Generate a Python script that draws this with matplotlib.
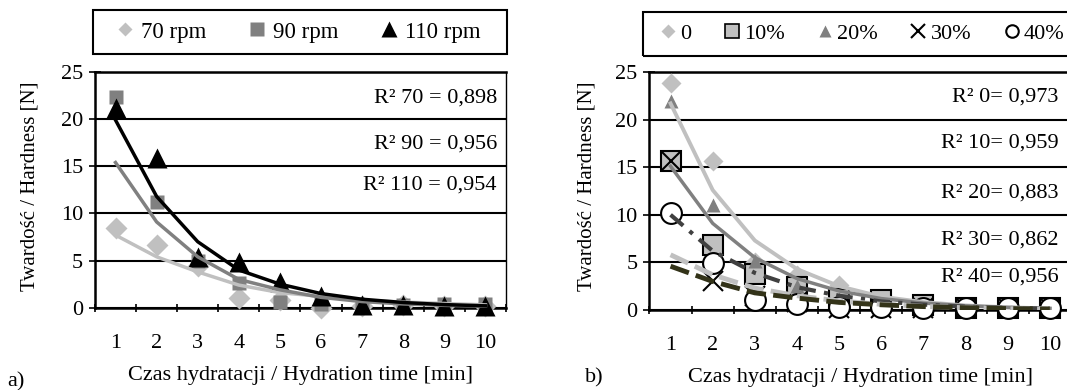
import numpy as np
import matplotlib
matplotlib.use("Agg")
import matplotlib.pyplot as plt
from matplotlib.lines import Line2D
from matplotlib.patches import Rectangle

plt.rcParams["font.family"] = ["Liberation Serif", "DejaVu Serif"]
plt.rcParams["font.size"] = 16

time_min = [1, 2, 3, 4, 5, 6, 7, 8, 9, 10]

# panel a) - rotational speed
rpm70 = [8.5, 6.6, 4.4, 1.0, 0.8, 0.0, 0.2, 0.3, 0.2, 0.2]
rpm90 = [22.3, 11.2, 5.0, 2.6, 0.6, 0.4, 0.3, 0.3, 0.4, 0.4]
rpm110 = [21.2, 15.9, 5.4, 4.9, 2.7, 1.2, 0.3, 0.3, 0.2, 0.2]
trend70 = [7.7, 5.4, 3.8, 2.4, 1.6, 1.2, 0.8, 0.6, 0.45, 0.3]
trend90 = [15.4, 9.1, 5.4, 3.0, 1.9, 1.1, 0.65, 0.4, 0.25, 0.15]
trend110 = [19.9, 11.8, 7.0, 4.0, 2.5, 1.5, 0.9, 0.55, 0.33, 0.2]
r2_a = ["R² 70 = 0,898", "R² 90 = 0,956", "R² 110 = 0,954"]
r2_a_y = [22.2, 17.4, 13.0]

# panel b) - additive share
add0 = [23.8, 15.7, 5.0, 3.7, 2.6, 1.0, 0.3, 0.2, 0.2, 0.2]
add10 = [15.7, 6.8, 3.8, 2.4, 1.2, 1.1, 0.5, 0.2, 0.2, 0.2]
add20 = [22.0, 11.0, 5.2, 2.5, 1.2, 0.7, 0.3, 0.2, 0.2, 0.2]
add30 = [15.7, 3.0, 1.5, 0.8, 0.2, 0.2, 0.2, 0.2, 0.2, 0.2]
add40 = [10.2, 4.9, 1.05, 0.65, 0.35, 0.3, 0.2, 0.2, 0.2, 0.2]
trend0 = [21.7, 12.6, 7.3, 4.3, 2.5, 1.4, 0.83, 0.48, 0.28, 0.16]
trend10 = [15.1, 9.1, 5.5, 3.3, 2.0, 1.2, 0.73, 0.44, 0.27, 0.16]
trend20 = [5.8, 3.7, 2.3, 1.5, 0.95, 0.6, 0.38, 0.24, 0.15, 0.1]
trend30 = [10.0, 6.2, 3.9, 2.4, 1.5, 0.9, 0.57, 0.35, 0.22, 0.14]
trend40 = [4.6, 3.0, 1.8, 1.25, 0.8, 0.55, 0.36, 0.24, 0.15, 0.1]
r2_b = ["R² 0= 0,973", "R² 10= 0,959", "R² 20= 0,883", "R² 30= 0,862", "R² 40= 0,956"]
r2_b_y = [22.4, 17.5, 12.3, 7.3, 3.5]

LIGHT = "#c0c0c0"
MID = "#808080"
W, H = 1067, 390

fig = plt.figure(figsize=(10.67, 3.9), dpi=100)
ax1 = fig.add_axes([0.089, 0.211, 0.3852, 0.6044])
ax2 = fig.add_axes([0.6087, 0.2051, 0.395, 0.6103])


def style_axis(ax):
    ax.set_xlim(0.5, 10.5)
    ax.set_ylim(0, 25)
    ax.set_yticks([0, 5, 10, 15, 20, 25])
    ax.set_xticks(time_min)
    ax.set_xticks(np.arange(0.5, 11, 1), minor=True)
    ax.tick_params(axis="x", which="major", length=0, pad=19)
    ax.tick_params(axis="x", which="minor", length=6, width=1.2, direction="inout")
    ax.tick_params(axis="y", length=9, width=1.2, direction="inout", pad=4)
    ax.grid(axis="y", color="black", linewidth=1.5)
    ax.set_axisbelow(True)
    for side in ["left", "bottom", "top"]:
        ax.spines[side].set_linewidth(1.8)
    ax.spines["right"].set_linewidth(1.0)
    ax.set_xlabel("Czas hydratacji / Hydration time [min]", labelpad=9)


# ---- panel a
style_axis(ax1)
ax1.plot(time_min, rpm70, "D", color=LIGHT, ms=11, mec="none", clip_on=False, zorder=3)
ax1.plot(time_min, rpm90, "s", color=MID, ms=10, mec="none", clip_on=False, zorder=3)
ax1.plot(time_min, rpm110, "^", color="black", ms=15, mec="none", clip_on=False, zorder=3)
ax1.plot(time_min, trend70, color=LIGHT, lw=2.5, zorder=4)
ax1.plot(time_min, trend90, color=MID, lw=2.5, zorder=4)
ax1.plot(time_min, trend110, color="black", lw=2.5, zorder=4)
for txt, yy in zip(r2_a, r2_a_y):
    ax1.text(10.28, yy, txt, ha="right", va="center")

handles_a = [
    Line2D([], [], ls="none", marker="D", color=LIGHT, ms=7, mec="none"),
    Line2D([], [], ls="none", marker="s", color=MID, ms=10, mec="none"),
    Line2D([], [], ls="none", marker="^", color="black", ms=11, mec="none"),
]
fig.legend(handles_a, ["70 rpm", "90 rpm", "110 rpm"], ncol=3,
           bbox_to_anchor=(107 / W, 1 - 32 / H), loc="center left",
           frameon=False, handletextpad=0.3, handlelength=0.8,
           columnspacing=1.8, borderaxespad=0, fontsize=16.5)
fig.patches.append(Rectangle((93 / W, 1 - 54 / H), 414 / W, 44 / H,
                             transform=fig.transFigure, fill=False,
                             edgecolor="black", linewidth=1.5))

# ---- panel b
style_axis(ax2)
ax2.plot(time_min, add0, "D", color=LIGHT, ms=10.5, mec="none", clip_on=False, zorder=3)
ax2.plot(time_min, add10, "s", color=LIGHT, ms=14, mec="black", mew=1.5, clip_on=False, zorder=3)
ax2.plot(time_min, add20, "^", color=MID, ms=9.5, mec="none", clip_on=False, zorder=3)
ax2.plot(time_min, add30, "x", color="black", ms=14, mew=1.5, clip_on=False, zorder=3)
ax2.plot(time_min, add40, "o", mfc="white", mec="black", ms=15, mew=1.5, clip_on=False, zorder=3)
ax2.plot(time_min, trend0, color=LIGHT, lw=2.8, zorder=4)
ax2.plot(time_min, trend10, color=MID, lw=2.5, zorder=4)
ax2.plot(time_min, trend30, color="#404040", lw=3, ls=(0, (4, 2, 1, 2)), zorder=4)
ax2.plot(time_min, trend20, color=LIGHT, lw=3.5, ls=(0, (4, 1.5)), zorder=4)
ax2.plot(time_min, trend40, color="#333319", lw=3.5, ls=(0, (4, 1.5)), zorder=4)
for txt, yy in zip(r2_b, r2_b_y):
    ax2.text(10.2, yy, txt, ha="right", va="center")

handles_b = [
    Line2D([], [], ls="none", marker="D", color=LIGHT, ms=7, mec="none"),
    Line2D([], [], ls="none", marker="s", color=LIGHT, ms=10, mec="black", mew=1.2),
    Line2D([], [], ls="none", marker="^", color=MID, ms=9, mec="none"),
    Line2D([], [], ls="none", marker="x", color="black", ms=10, mew=1.5),
    Line2D([], [], ls="none", marker="o", mfc="white", mec="black", ms=9, mew=1.5),
]
fig.legend(handles_b, ["0", "10%", "20%", "30%", "40%"], ncol=5,
           bbox_to_anchor=(650 / W, 1 - 34 / H), loc="center left",
           frameon=False, handletextpad=0.15, handlelength=0.8,
           columnspacing=1.42, borderaxespad=0, fontsize=16)
fig.patches.append(Rectangle((643 / W, 1 - 56 / H), 440 / W, 44 / H,
                             transform=fig.transFigure, fill=False,
                             edgecolor="black", linewidth=1.5))

# axis titles and panel letters
for xc in (30 / W, 587 / W):
    fig.text(xc, 1 - 186 / H, "Twardość / Hardness [N]", rotation=90,
             ha="center", va="center", fontsize=15)
fig.text(7 / W, 1 - 382 / H, "a)", va="center", fontsize=16)
fig.text(585 / W, 1 - 378 / H, "b)", va="center", fontsize=16)

fig.savefig("out.png", dpi=100)
